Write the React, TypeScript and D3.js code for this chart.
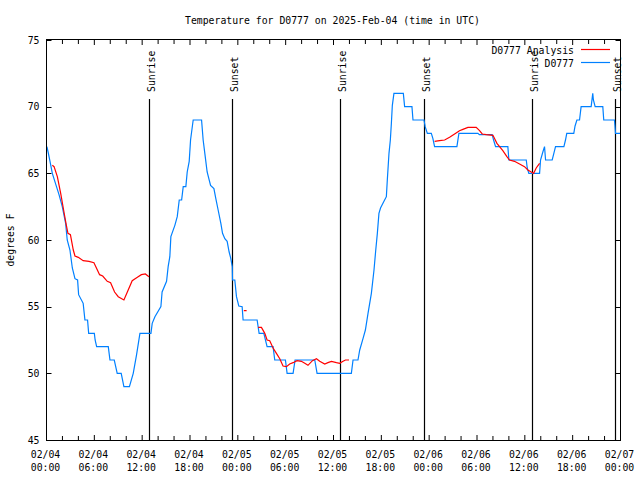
import React from "react";
import * as d3 from "d3";

const title = "Temperature for D0777 on 2025-Feb-04 (time in UTC)";
const yLabel = "degrees F";
const seriesNames = ["D0777 Analysis", "D0777"];
const seriesColors = ["#ff0000", "#0080ff"];
const yTicks = [45, 50, 55, 60, 65, 70, 75];

// hours since 2025-02-04 00:00 UTC
const obsHours = [
  0.05, 0.2, 0.44, 0.73, 1.57, 1.98, 2.4, 2.6, 2.94, 3.24, 3.57, 3.9, 4.03, 4.6, 4.82, 5.15, 5.29, 6.0, 6.1, 6.29,
  7.75, 7.96, 8.5, 8.87, 9.37, 9.71, 10.4, 10.88, 11.3, 11.72, 13.1, 13.26, 13.6, 14.35, 14.5, 15.06, 15.26, 15.47,
  15.6, 16.1, 16.4, 16.65, 16.95, 17.15, 17.48, 17.65, 17.9, 18.07, 18.4, 19.45, 19.65, 19.86, 20.15, 20.58, 21.0,
  21.24, 21.53, 21.87, 22.08, 22.37, 22.66, 22.91, 23.12, 23.3, 23.33, 23.62, 23.83, 24.12, 24.54, 24.66, 26.42,
  26.67, 27.26, 27.67, 28.42, 28.63, 29.97, 30.18, 30.93, 31.18, 33.65, 33.94, 38.24, 38.45, 39.07, 39.29, 39.7,
  40.0, 40.33, 40.75, 41.08, 41.3, 41.5, 41.7, 41.9, 42.33, 42.63, 42.75, 42.96, 43.13, 43.26, 43.38, 43.58, 44.76,
  44.92, 45.84, 45.97, 47.35, 47.5, 47.77, 48.27, 48.47, 48.68, 51.48, 51.73, 54.11, 54.3, 55.9, 56.08, 56.33,
  57.87, 58.0, 60.18, 60.3, 60.5, 61.85, 61.97, 62.26, 62.47, 62.6, 63.43, 63.6, 63.85, 64.9, 65.1, 65.26, 66.14,
  66.3, 66.53, 66.86, 67.06, 68.32, 68.52, 68.6, 68.82, 69.78, 69.9, 71.24, 71.3, 71.37, 72.0,
];
const obsTemps = [
  67.0, 66.6, 65.9, 65.0, 63.4, 62.5, 61.25, 60.0, 59.25, 57.9, 57.1, 57.0, 55.9, 55.25, 54.0, 54.0, 53.0, 53.0, 52.5, 52.0,
  52.0, 51.0, 51.0, 50.0, 50.0, 49.0, 49.0, 50.0, 51.4, 53.0, 53.0, 53.75, 54.25, 55.0, 56.1, 56.9, 58.0, 58.75,
  60.25, 61.1, 61.75, 63.0, 63.0, 64.0, 64.0, 65.1, 65.9, 67.5, 69.0, 69.0, 67.5, 66.5, 65.1, 64.1, 63.85,
  63.1, 62.25, 61.25, 60.5, 60.1, 59.9, 59.1, 58.6, 58.0, 57.0, 57.0, 55.75, 55.05, 55.0, 54.0, 54.0,
  53.0, 53.0, 52.0, 52.0, 51.0, 51.0, 50.0, 50.0, 51.0, 51.0, 50.0, 50.0, 51.0, 51.0, 51.75, 52.6,
  53.25, 54.5, 56.0, 57.75, 59.25, 60.5, 62.0, 62.4, 62.9, 63.25, 64.5, 66.5, 67.5, 68.75, 70.1, 71.0, 71.0,
  70.0, 70.0, 69.0, 69.0, 68.5, 68.0, 68.0, 67.6, 67.0, 67.0, 68.0, 68.0, 67.9, 67.9, 67.5, 67.0,
  67.0, 66.0, 66.0, 65.4, 65.0, 65.0, 66.0, 66.6, 67.0, 66.0, 66.0, 66.4, 67.0, 67.0, 67.5, 68.0, 68.0,
  68.55, 69.0, 69.0, 70.0, 70.0, 71.0, 70.5, 70.0, 70.0, 69.0, 69.0, 68.6, 68.0, 68.0,
];

// null marks a gap in the analysis series
const analysisHours = [
  0.73, 0.95, 1.36, 1.78, 2.19, 2.49, 2.69, 3.0, 3.36, 3.57, 3.99, 4.6, 5.33, 5.95, 6.66, 7.05, 7.62, 8.04, 8.54,
  9.0, 9.71, 10.1, 10.75, 11.4, 11.9, 12.4, 12.85, 18.0,
  24.75, 25.1, 26.0,
  26.54, 26.96, 27.38, 27.67, 28.0, 28.42, 28.84, 29.26, 29.67, 30.1, 30.5, 30.93, 31.43, 31.97, 32.4, 32.8, 33.36,
  33.86, 34.27, 34.9, 35.3, 35.74, 36.37, 36.78, 37.2, 37.5, 37.95, 42.0,
  48.68, 49.3, 49.94, 50.56, 51.19, 51.8, 52.23, 52.86, 53.9, 54.32, 54.66, 55.16, 56.0, 56.5, 56.83, 57.24, 57.75,
  58.08, 58.7, 59.34, 59.96, 60.38, 60.8, 61.1, 61.43, 61.85,
];
const analysisTemps: (number | null)[] = [
  65.6, 65.5, 64.75, 63.5, 62.1, 61.1, 60.5, 60.4, 59.25, 58.8, 58.7, 58.45, 58.4, 58.3, 57.4, 57.3, 56.9, 56.8, 56.1,
  55.75, 55.5, 56.05, 56.95, 57.2, 57.4, 57.45, 57.25, null,
  54.7, 54.7, null,
  53.45, 53.45, 53.0, 52.5, 52.45, 51.9, 51.5, 51.1, 50.55, 50.5, 50.7, 50.8, 50.95, 50.9, 50.75, 50.6, 50.95,
  51.1, 50.9, 50.7, 50.8, 50.9, 50.8, 50.75, 50.9, 51.0, 51.0, null,
  67.4, 67.45, 67.5, 67.7, 67.95, 68.2, 68.3, 68.45, 68.45, 68.2, 67.95, 67.9, 67.85, 67.25, 67.0, 66.7, 66.25,
  66.0, 65.9, 65.7, 65.5, 65.25, 65.1, 65.0, 65.4, 65.75,
];

const sunHours = [12.88, 23.28, 36.78, 47.34, 60.88, 71.37];
const sunLabels = ["Sunrise", "Sunset", "Sunrise", "Sunset", "Sunrise", "Sunset"];

const FONT = "'DejaVu Sans Mono', 'Liberation Mono', monospace";
const start = Date.UTC(2025, 1, 4, 0, 0);
const toDate = (h: number) => new Date(start + h * 3600000);

export default function App() {
  const left = 46.5, right = 620.5, top = 40, bottom = 440;
  const x = d3.scaleUtc().domain([toDate(0), toDate(72)]).range([left, right]);
  const y = d3.scaleLinear().domain([45, 75]).range([bottom, top]);

  const majorTicks = x.ticks(d3.utcHour.every(6)!);
  const minorTicks = x.ticks(d3.utcHour.every(2)!).filter((t) => t.getUTCHours() % 6 !== 0);
  const fmtDate = d3.utcFormat("%m/%d");
  const fmtTime = d3.utcFormat("%H:%M");

  const obsData = obsHours.map((h, i) => ({ t: toDate(h), v: obsTemps[i] }));
  const anaData = analysisHours.map((h, i) => ({ t: toDate(h), v: analysisTemps[i] }));

  const line = d3
    .line<{ t: Date; v: number | null }>()
    .defined((d) => d.v !== null)
    .x((d) => x(d.t))
    .y((d) => y(d.v as number));

  const textStyle = { fontFamily: FONT, fontSize: 9.8, fill: "#000" } as const;

  return (
    <svg
      width={640}
      height={480}
      style={{ position: "fixed", left: 0, top: 0, background: "#fff" }}
    >
      <rect x={0} y={0} width={640} height={480} fill="#fff" />
      <text x={332.5} y={24} textAnchor="middle" {...textStyle}>
        {title}
      </text>
      <text transform={`translate(14,240) rotate(-90)`} textAnchor="middle" {...textStyle}>
        {yLabel}
      </text>

      {/* y ticks */}
      {yTicks.map((v) => (
        <g key={"y" + v}>
          <line x1={left} x2={left + 5} y1={Math.round(y(v)) + 0.5} y2={Math.round(y(v)) + 0.5} stroke="#000" />
          <line x1={right - 5} x2={right} y1={Math.round(y(v)) + 0.5} y2={Math.round(y(v)) + 0.5} stroke="#000" />
          <text x={39.5} y={y(v) + 3.7} textAnchor="end" {...textStyle}>
            {v}
          </text>
        </g>
      ))}

      {/* x ticks */}
      {majorTicks.map((t, i) => (
        <g key={"xm" + i}>
          <line x1={x(t)} x2={x(t)} y1={bottom} y2={bottom - 5} stroke="#000" />
          <line x1={x(t)} x2={x(t)} y1={top} y2={top + 5} stroke="#000" />
          <text x={x(t) - 1} y={457.5} textAnchor="middle" {...textStyle}>
            {fmtDate(t)}
          </text>
          <text x={x(t) - 1} y={470.5} textAnchor="middle" {...textStyle}>
            {fmtTime(t)}
          </text>
        </g>
      ))}
      {minorTicks.map((t, i) => (
        <g key={"xn" + i}>
          <line x1={x(t)} x2={x(t)} y1={bottom} y2={bottom - 4} stroke="#000" />
          <line x1={x(t)} x2={x(t)} y1={top} y2={top + 4} stroke="#000" />
        </g>
      ))}

      {/* sunrise / sunset */}
      {sunHours.map((h, i) => {
        const sx = Math.round(x(toDate(h))) + 0.5;
        return (
          <g key={"sun" + i}>
            <line x1={sx} x2={sx} y1={99} y2={bottom} stroke="#000" strokeWidth={1.2} />
            <text transform={`translate(${sx + 5},92) rotate(-90)`} textAnchor="start" {...textStyle}>
              {sunLabels[i]}
            </text>
          </g>
        );
      })}

      {/* data */}
      <path d={line(obsData) || ""} fill="none" stroke={seriesColors[1]} strokeWidth={1.2} />
      <path d={line(anaData) || ""} fill="none" stroke={seriesColors[0]} strokeWidth={1.2} />

      {/* legend */}
      <text x={574} y={53.5} textAnchor="end" {...textStyle}>
        {seriesNames[0]}
      </text>
      <line x1={581} x2={610} y1={49.5} y2={49.5} stroke={seriesColors[0]} strokeWidth={1.2} />
      <text x={574} y={66.5} textAnchor="end" {...textStyle}>
        {seriesNames[1]}
      </text>
      <line x1={581} x2={610} y1={62.5} y2={62.5} stroke={seriesColors[1]} strokeWidth={1.2} />

      {/* border */}
      <rect x={left} y={top - 0.5} width={right - left} height={bottom - top + 1} fill="none" stroke="#000" />
    </svg>
  );
}
